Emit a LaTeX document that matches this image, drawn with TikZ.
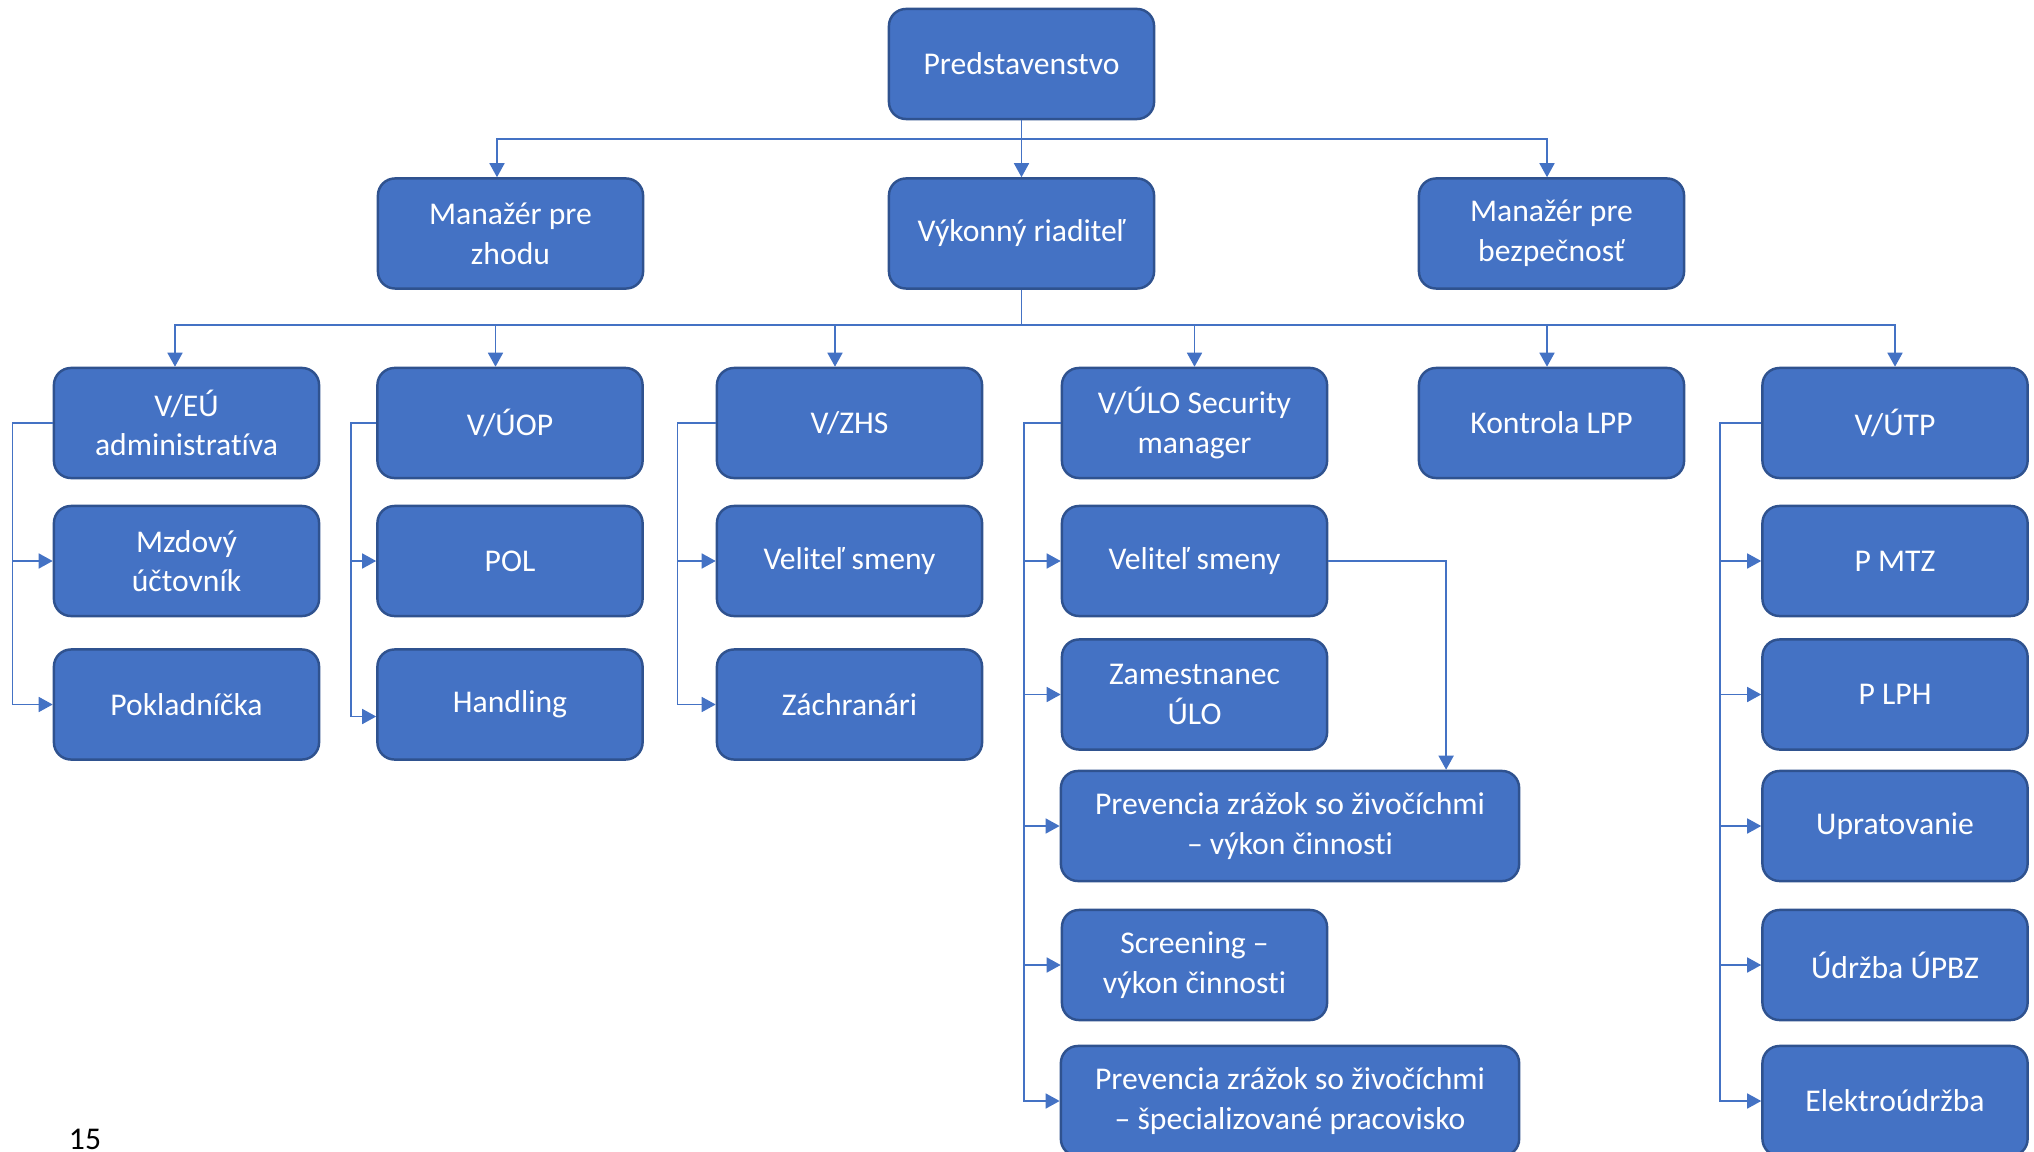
\documentclass[tikz,border=0pt]{standalone}
\usepackage{fontspec}
\setmainfont[Ligatures=NoCommon]{Carlito}
\usetikzlibrary{arrows.meta}
\definecolor{boxfill}{HTML}{4472C4}
\definecolor{boxedge}{HTML}{2F528F}
\definecolor{linkc}{HTML}{4472C4}
\begin{document}
\begin{tikzpicture}[x=0.01cm,y=-0.01cm,
  orgbox/.style={draw=boxedge, fill=boxfill, line width=0.7pt, rounded corners=0.17cm,
    minimum width=2.65cm, minimum height=1.1cm, text=white, align=center, inner sep=0pt,
    font=\fontsize{9}{11.3}\selectfont},
  widebox/.style={orgbox, minimum width=4.58cm},
  conn/.style={draw=linkc, line width=0.45pt, -{Triangle[length=0.14cm,width=0.15cm]}}]
\useasboundingbox (0,0) rectangle (2034,1152);

% level 0
\node[orgbox] (pred) at (1021.5,64) {Predstavenstvo};
% level 1
\node[orgbox] (zhodu) at (510.5,233.5) {Manažér pre\\zhodu};
\node[orgbox] (vr) at (1021.5,233.5) {Výkonný riaditeľ};
\node[orgbox] (bezp) at (1551.5,233.5) {Manažér pre\\bezpečnosť};
% level 2
\node[orgbox] (veu) at (186.5,423) {V/EÚ\\administratíva};
\node[orgbox] (vuop) at (510,423) {V/ÚOP};
\node[orgbox] (vzhs) at (849.5,423) {V/ZHS};
\node[orgbox] (vulo) at (1194.5,423) {V/ÚLO Security\\manager};
\node[orgbox] (klpp) at (1551.5,423) {Kontrola LPP};
\node[orgbox] (vutp) at (1895,423) {V/ÚTP};
% column 1
\node[orgbox] (mzd) at (186.5,561) {Mzdový\\účtovník};
\node[orgbox] (pok) at (186.5,704.5) {Pokladníčka};
% column 2
\node[orgbox] (pol) at (510,561) {POL};
\node[orgbox] (hand) at (510,704.5) {Handling};
% column 3
\node[orgbox] (vel1) at (849.5,561) {Veliteľ smeny};
\node[orgbox] (zach) at (849.5,704.5) {Záchranári};
% column 4
\node[orgbox] (vel2) at (1194.5,561) {Veliteľ smeny};
\node[orgbox] (zam) at (1194.5,694.5) {Zamestnanec\\ÚLO};
\node[widebox] (prev1) at (1290,826) {Prevencia zrážok so živočíchmi\\– výkon činnosti};
\node[orgbox] (scr) at (1194.5,965) {Screening –\\výkon činnosti};
\node[widebox] (prev2) at (1290,1101) {Prevencia zrážok so živočíchmi\\– špecializované pracovisko};
% column 6
\node[orgbox] (pmtz) at (1895,561) {P MTZ};
\node[orgbox] (plph) at (1895,694.5) {P LPH};
\node[orgbox] (uprat) at (1895,826) {Upratovanie};
\node[orgbox] (udrz) at (1895,965) {Údržba ÚPBZ};
\node[orgbox] (elek) at (1895,1101) {Elektroúdržba};
% page number
\node[anchor=base, inner sep=0pt, font=\fontsize{9}{11}\selectfont] (pg) at (85,1149) {15};

% level 0 -> 1
\draw[conn] (pred.south) -- ++(0,19) -| ([xshift=-0.135cm]zhodu.north);
\draw[conn] (pred.south) -- (vr.north);
\draw[conn] (pred.south) -- ++(0,19) -| ([xshift=-0.045cm]bezp.north);
% level 1 -> 2
\draw[conn] (vr.south) -- ++(0,35) -| ([xshift=-0.115cm]veu.north);
\draw[conn] (vr.south) -- ++(0,35) -| ([xshift=-0.145cm]vuop.north);
\draw[conn] (vr.south) -- ++(0,35) -| ([xshift=-0.145cm]vzhs.north);
\draw[conn] (vr.south) -- ++(0,35) -| (vulo.north);
\draw[conn] (vr.south) -- ++(0,35) -| ([xshift=-0.045cm]klpp.north);
\draw[conn] (vr.south) -- ++(0,35) -| (vutp.north);
% column 1
\draw[conn] (veu.west) -- ++(-40,0) |- (mzd.west);
\draw[conn] (veu.west) -- ++(-40,0) |- (pok.west);
% column 2
\draw[conn] (vuop.west) -- ++(-25,0) |- (pol.west);
\draw[conn] (vuop.west) -- ++(-25,0) |- ([yshift=-0.12cm]hand.west);
% column 3
\draw[conn] (vzhs.west) -- ++(-38,0) |- (vel1.west);
\draw[conn] (vzhs.west) -- ++(-38,0) |- (zach.west);
% column 4
\draw[conn] (vulo.west) -- ++(-37,0) |- (vel2.west);
\draw[conn] (vulo.west) -- ++(-37,0) |- (zam.west);
\draw[conn] (vulo.west) -- ++(-37,0) |- (prev1.west);
\draw[conn] (vulo.west) -- ++(-37,0) |- (scr.west);
\draw[conn] (vulo.west) -- ++(-37,0) |- (prev2.west);
\draw[conn] (vel2.east) -| ([xshift=1.56cm]prev1.north);
% column 6
\draw[conn] (vutp.west) -- ++(-41,0) |- (pmtz.west);
\draw[conn] (vutp.west) -- ++(-41,0) |- (plph.west);
\draw[conn] (vutp.west) -- ++(-41,0) |- (uprat.west);
\draw[conn] (vutp.west) -- ++(-41,0) |- (udrz.west);
\draw[conn] (vutp.west) -- ++(-41,0) |- (elek.west);
\end{tikzpicture}
\end{document}
